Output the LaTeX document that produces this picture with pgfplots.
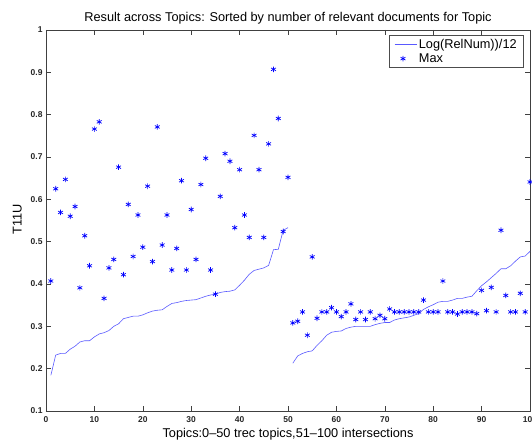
\documentclass[border=0pt]{standalone}
\usepackage{fontspec}
\setmainfont{Liberation Sans}
\usepackage{pgfplots}
\pgfplotsset{compat=1.18}
\usetikzlibrary{calc}
\definecolor{mblue}{rgb}{0,0,1}
\definecolor{lblue}{rgb}{0.35,0.35,1}
\pgfplotsset{lineleg/.style={legend image code/.code={\draw[##1] (0cm,0cm) -- (0.78cm,0cm);}}}
\begin{document}
\begin{tikzpicture}
\begin{axis}[
  width=484bp, height=381bp, scale only axis,
  xmin=0, xmax=100, ymin=0.1, ymax=1,
  xtick={0,10,...,100},
  ytick={0.1,0.2,0.3,0.4,0.5,0.6,0.7,0.8,0.9,1},
  yticklabel style={/pgf/number format/fixed,/pgf/number format/precision=1},
  /pgf/number format/assume math mode=true,
  tick label style={font=\fontsize{8.5}{9}\selectfont\bfseries, text=black!85},
  xticklabel style={yshift=-2.5bp},
  tick align=inside,
  major tick length=5bp,
  axis line style={black!75, line width=0.6bp},
  tick style={black!75, line width=0.6bp},
  unbounded coords=jump,
  legend style={at={(rel axis cs:1,1)}, anchor=north east, xshift=-6bp, yshift=-5bp,
    draw=black!70, line width=0.6bp, font=\fontsize{12.8}{13}\selectfont,
    inner xsep=5bp, inner ysep=2bp, row sep=-0.5bp, cells={anchor=west}},
]
\coordinate (ll) at (rel axis cs:0,0);
\coordinate (ur) at (rel axis cs:1,1);
\addplot[lblue, line width=0.6bp, mark=none, lineleg] coordinates {
(1,0.184) (2,0.232) (3,0.236) (4,0.236) (5,0.246) (6,0.253) (7,0.263) (8,0.266) (9,0.266) (10,0.275)
(11,0.282) (12,0.285) (13,0.290) (14,0.300) (15,0.306) (16,0.318) (17,0.321) (18,0.324) (19,0.324) (20,0.327)
(21,0.332) (22,0.336) (23,0.338) (24,0.339) (25,0.347) (26,0.354) (27,0.356) (28,0.359) (29,0.361) (30,0.362)
(31,0.363) (32,0.367) (33,0.371) (34,0.374) (35,0.376) (36,0.380) (37,0.382) (38,0.383) (39,0.386) (40,0.397)
(41,0.409) (42,0.423) (43,0.432) (44,0.435) (45,0.438) (46,0.444) (47,0.481) (48,0.482) (49,0.527) (50,0.533)
(50.5,nan)
(51,0.213) (52,0.230) (53,0.236) (54,0.240) (55,0.242) (56,0.255) (57,0.266) (58,0.279) (59,0.286) (60,0.288)
(61,0.289) (62,0.295) (63,0.298) (64,0.300) (65,0.300) (66,0.300) (67,0.300) (68,0.304) (69,0.307) (70,0.309)
(71,0.309) (72,0.315) (73,0.318) (74,0.320) (75,0.322) (76,0.326) (77,0.330) (78,0.340) (79,0.346) (80,0.351)
(81,0.357) (82,0.359) (83,0.359) (84,0.362) (85,0.366) (86,0.366) (87,0.369) (88,0.371) (89,0.384) (90,0.396)
(91,0.405) (92,0.415) (93,0.425) (94,0.436) (95,0.436) (96,0.443) (97,0.454) (98,0.464) (99,0.466) (100,0.477)
};
\addlegendentry{Log(RelNum))/12}
\addplot[only marks, mblue, mark=asterisk, mark size=2.8bp, line width=0.7bp] coordinates {
(1,0.407) (2,0.625) (3,0.569) (4,0.647) (5,0.560) (6,0.583) (7,0.391) (8,0.514) (9,0.443) (10,0.766)
(11,0.783) (12,0.366) (13,0.438) (14,0.458) (15,0.676) (16,0.422) (17,0.588) (18,0.465) (19,0.563) (20,0.487)
(21,0.631) (22,0.453) (23,0.771) (24,0.492) (25,0.563) (26,0.433) (27,0.484) (28,0.644) (29,0.433) (30,0.576)
(31,0.458) (32,0.635) (33,0.697) (34,0.433) (35,0.376) (36,0.607) (37,0.708) (38,0.690) (39,0.533) (40,0.670)
(41,0.563) (42,0.510) (43,0.751) (44,0.670) (45,0.510) (46,0.731) (47,0.907) (48,0.791) (49,0.524) (50,0.652)
(51,0.308) (52,0.312) (53,0.334) (54,0.279) (55,0.464) (56,0.319) (57,0.334) (58,0.334) (59,0.344) (60,0.334)
(61,0.323) (62,0.334) (63,0.353) (64,0.316) (65,0.334) (66,0.316) (67,0.334) (68,0.318) (69,0.326) (70,0.318)
(71,0.341) (72,0.334) (73,0.334) (74,0.334) (75,0.334) (76,0.334) (77,0.334) (78,0.362) (79,0.334) (80,0.334)
(81,0.334) (82,0.407) (83,0.334) (84,0.334) (85,0.329) (86,0.334) (87,0.334) (88,0.334) (89,0.330) (90,0.385)
(91,0.337) (92,0.392) (93,0.334) (94,0.527) (95,0.373) (96,0.334) (97,0.334) (98,0.378) (99,0.334) (100,0.641)
};
\addlegendentry{Max}
\end{axis}
\node[anchor=base, font=\fontsize{12.8}{13}\selectfont] at ($(ll|-ur)!0.5!(ur)+(0,8.3bp)$) {Result across Topics: Sorted by number of relevant documents for Topic};
\node[anchor=base, font=\fontsize{12.8}{13}\selectfont] at ($(ll)!0.5!(ll-|ur)+(0,-27bp)$) {Topics:0\textendash50 trec topics,51\textendash100 intersections};
\node[anchor=base, rotate=90, font=\fontsize{12.8}{13}\selectfont] at ($(ll)!0.5!(ll|-ur)+(-24.3bp,1.5bp)$) {T11U};
\pgfresetboundingbox
\path ([shift={(-46bp,-30bp)}]ll) rectangle ([shift={(2bp,30bp)}]ur);
\end{tikzpicture}
\end{document}
